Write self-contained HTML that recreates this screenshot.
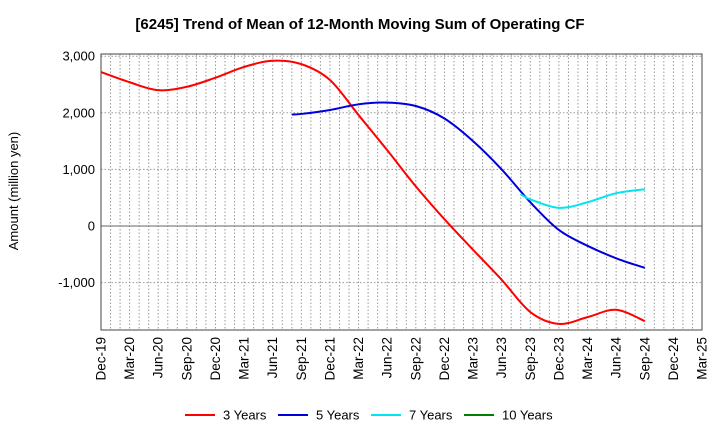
<!DOCTYPE html>
<html><head><meta charset="utf-8"><style>
body{margin:0;background:#fff;font-family:"Liberation Sans",sans-serif}
</style></head><body>
<svg id="c" width="720" height="440" xmlns="http://www.w3.org/2000/svg" font-family="Liberation Sans, sans-serif">
<text x="360" y="29" text-anchor="middle" font-size="15" font-weight="bold">[6245]  Trend of Mean of 12-Month Moving Sum of Operating CF</text>
<text transform="translate(18,191) rotate(-90)" text-anchor="middle" font-size="13">Amount (million yen)</text>
<g id="grid"></g><g id="axes"></g><g id="series"></g><g id="legend"></g>
</svg>
<script>
const xLabels=["Dec-19","Mar-20","Jun-20","Sep-20","Dec-20","Mar-21","Jun-21","Sep-21","Dec-21","Mar-22","Jun-22","Sep-22","Dec-22","Mar-23","Jun-23","Sep-23","Dec-23","Mar-24","Jun-24","Sep-24","Dec-24","Mar-25"];
const yTicks=[3000,2000,1000,0,-1000];
const yTickLabels=["3,000","2,000","1,000","0","-1,000"];
// month offsets from Dec-19
const m3=[0,3,6,9,12,15,18,21,24,27,30,33,36,39,42,45,48,51,54,57];
const v3=[2720,2540,2400,2460,2620,2810,2920,2860,2580,1960,1340,700,120,-420,-950,-1520,-1730,-1610,-1480,-1680];
const m5=[20,21,24,27,30,33,36,39,42,45,48,51,54,57];
const v5=[1970,1980,2050,2150,2180,2120,1900,1500,1000,420,-70,-350,-570,-740];
const m7=[44,45,48,51,54,57];
const v7=[560,470,320,420,580,650];
const m10=[];const v10=[];
const L=101,R=702,T=54,B=330;
const X=m=>L+m*(R-L)/63;
const Y=v=>226-v*0.0566;
const ns="http://www.w3.org/2000/svg";
function mk(tag,attrs,parent){const e=document.createElementNS(ns,tag);for(const k in attrs)e.setAttribute(k,attrs[k]);parent.appendChild(e);return e;}
const grid=document.getElementById('grid'),axes=document.getElementById('axes'),ser=document.getElementById('series'),leg=document.getElementById('legend');
for(let m=1;m<63;m++){const g=mk('line',{x1:X(m),x2:X(m),y1:T,y2:B,stroke:'#999','stroke-dasharray':'1.5,2','stroke-width':1},grid);

}
yTicks.forEach((t,i)=>{const g=mk('line',{x1:L,x2:R,y1:Y(t),y2:Y(t),stroke:t===0?'#666':'#999','stroke-dasharray':t===0?'':'1.5,2'},grid);


const tx=mk('text',{x:L-6,y:Y(t)+4.5,'text-anchor':'end','font-size':13},axes);tx.textContent=yTickLabels[i];

});
const fr=mk('rect',{x:L,y:T,width:R-L,height:B-T,fill:'none',stroke:'#444'},axes);


xLabels.forEach((s,i)=>{const x=X(i*3);const t=mk('text',{transform:`translate(${x+4.5},${B+7}) rotate(-90)`,'text-anchor':'end','font-size':13.5},axes);t.textContent=s;

});
function path(ms,vs){if(!ms.length)return '';const p=ms.map((m,i)=>[X(m),Y(vs[i])]);let d=`M${p[0][0]},${p[0][1]}`;
for(let i=0;i<p.length-1;i++){const p0=p[i-1]||p[i],p1=p[i],p2=p[i+1],p3=p[i+2]||p2;
d+=`C${p1[0]+(p2[0]-p0[0])/6},${p1[1]+(p2[1]-p0[1])/6} ${p2[0]-(p3[0]-p1[0])/6},${p2[1]-(p3[1]-p1[1])/6} ${p2[0]},${p2[1]}`;}return d;}
const S=[["3 Years",m3,v3,"#ff0000"],["5 Years",m5,v5,"#0000dd"],["7 Years",m7,v7,"#00e5ee"],["10 Years",m10,v10,"#008000"]];
const lx=[185,278,371,464];
S.forEach((s,i)=>{if(s[1].length){const p=mk('path',{d:path(s[1],s[2]),fill:'none',stroke:s[3],'stroke-width':2},ser);

}
const g=mk('g',{},leg);


mk('line',{x1:lx[i],x2:lx[i]+30,y1:415,y2:415,stroke:s[3],'stroke-width':2},g);
const t=mk('text',{x:lx[i]+38,y:419.5,'font-size':13},g);t.textContent=s[0];});
</script>
</body></html>
